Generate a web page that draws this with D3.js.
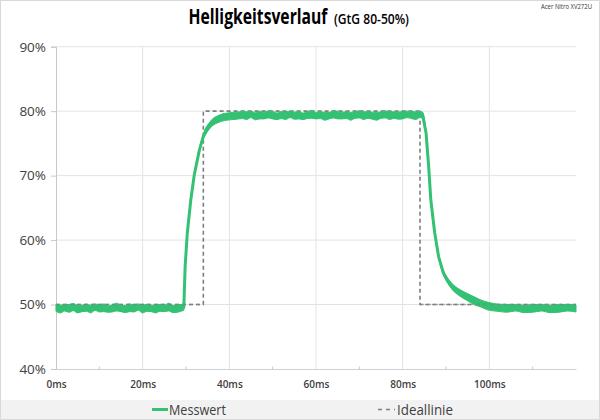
<!DOCTYPE html>
<html><head><meta charset="utf-8">
<script src="https://cdn.jsdelivr.net/npm/d3@7/dist/d3.min.js"></script>
<style>html,body{margin:0;padding:0;background:#fff}svg{display:block}</style>
</head><body><div id="chart"></div>
<script>
// ---- data ----
const title = "Helligkeitsverlauf";
const subtitle = "(GtG 80-50%)";
const device = "Acer Nitro XV272U";
const xTicks = [0, 20, 40, 60, 80, 100];
const xMinorTicks = [10, 30, 50, 70, 90, 110];
const yTicks = [40, 50, 60, 70, 80, 90];
const seriesNames = ["Messwert", "Ideallinie"];
// Messwert (measured) time in ms and brightness in %
const messTime = [0,1,2,3,4,5,6,7,8,9,10,11,12,13,14,15,16,17,18,19,20,21,22,23,24,25,26,27,28,29,29.5,
  29.8,30.3,31.1,31.9,33.1,34.0,35.6,37.9,40,41.7,
  43,44,45,46,47,48,49,50,51,52,53,54,55,56,57,58,59,60,61,62,63,64,65,66,67,68,69,70,71,72,73,74,75,76,77,78,79,80,81,82,83,84,84.6,
  85.4,86.0,86.5,87.4,88.3,89.4,90.3,91.4,93,94.8,96.5,97.9,100,102,104,106,108,110,112,114,116,118,120];
const messValue = [49.5,49.3,49.5,49.4,49.6,49.3,49.4,49.5,49.3,49.6,49.4,49.5,49.3,49.4,49.6,49.4,49.3,49.5,49.4,49.6,49.3,49.5,49.4,49.3,49.5,49.4,49.6,49.3,49.4,49.5,49.6,
  55.9,61.1,66.2,70.1,74.0,76.1,77.9,78.9,79.2,79.3,
  79.4,79.3,79.5,79.2,79.4,79.3,79.5,79.4,79.2,79.4,79.3,79.5,79.3,79.4,79.2,79.4,79.5,79.3,79.4,79.2,79.3,79.5,79.4,79.3,79.4,79.2,79.4,79.5,79.3,79.4,79.3,79.2,79.4,79.5,79.3,79.4,79.3,79.4,79.5,79.4,79.3,79.5,79.4,
  76.6,71.4,66.2,61.1,57.4,54.9,53.8,52.8,51.9,51.2,50.6,50.2,49.7,49.5,49.4,49.5,49.3,49.4,49.5,49.3,49.4,49.5,49.4];
// noise spread (+/- %) of the measured trace at each point
const messSpread = [0.55,0.6,0.5,0.6,0.55,0.6,0.5,0.55,0.6,0.5,0.55,0.6,0.5,0.55,0.6,0.5,0.55,0.6,0.55,0.5,0.6,0.55,0.5,0.6,0.55,0.5,0.6,0.55,0.6,0.5,0.5,
  0.1,0.1,0.1,0.15,0.25,0.4,0.5,0.55,0.55,0.55,
  0.55,0.6,0.5,0.55,0.6,0.5,0.55,0.6,0.5,0.55,0.6,0.5,0.55,0.6,0.5,0.55,0.6,0.5,0.55,0.6,0.5,0.55,0.6,0.5,0.55,0.6,0.5,0.55,0.6,0.5,0.55,0.6,0.5,0.55,0.6,0.5,0.55,0.6,0.5,0.55,0.6,0.5,0.45,
  0.1,0.1,0.1,0.1,0.15,0.3,0.4,0.45,0.5,0.55,0.6,0.55,0.6,0.55,0.6,0.5,0.55,0.6,0.5,0.55,0.6,0.5,0.55];
// Ideallinie (ideal step)
const idealTime = [0, 34, 34, 84, 84, 120];
const idealValue = [50, 50, 80, 80, 50, 50];

// ---- layout ----
const W = 600, H = 420;
const svg = d3.select("#chart").append("svg").attr("width", W).attr("height", H);
const font = "'Open Sans', 'Liberation Sans', sans-serif";
const x = d3.scaleLinear().domain([0, 120]).range([56, 576]);
const y = d3.scaleLinear().domain([40, 90]).range([369, 46.7]);
const green = "#33c173";

svg.append("rect").attr("x", 0.5).attr("y", 0.5).attr("width", W - 1).attr("height", H - 1)
  .attr("fill", "#fff").attr("stroke", "#d9d9d9");
svg.append("rect").attr("x", 1).attr("y", 400).attr("width", W - 2).attr("height", 19).attr("fill", "#f2f2f2");

// gridlines
svg.append("g").selectAll("line").data(yTicks.filter(d => d > 40)).join("line")
  .attr("x1", x(0)).attr("x2", x(120)).attr("y1", d => y(d)).attr("y2", d => y(d))
  .attr("stroke", "#e3e3e3").attr("stroke-width", 1);
svg.append("g").selectAll("line").data(xTicks.filter(d => d > 0)).join("line")
  .attr("x1", d => x(d)).attr("x2", d => x(d)).attr("y1", y(90)).attr("y2", y(40))
  .attr("stroke", "#e3e3e3").attr("stroke-width", 1);

// y axis
const yAxis = d3.axisLeft(y).tickValues(yTicks).tickSize(5).tickFormat(d => d + "%");
const gy = svg.append("g").attr("transform", `translate(${x(0)},0)`).call(yAxis);
gy.select(".domain").attr("stroke", "#c8c8c8");
gy.selectAll(".tick line").attr("stroke", "#c8c8c8");
gy.selectAll(".tick text").attr("font-family", font).attr("font-size", 13.5).attr("fill", "#404040").attr("x", -10);

// x axis
const xAxis = d3.axisBottom(x).tickValues(xTicks).tickSize(0).tickPadding(12).tickFormat(d => d + "ms");
const gx = svg.append("g").attr("transform", `translate(0,${y(40)})`).call(xAxis);
gx.select(".domain").attr("stroke", "#d0d0d0");
gx.selectAll(".tick text").attr("font-family", font).attr("font-size", 10).attr("font-weight", 600).attr("fill", "#404040");
svg.append("g").selectAll("line").data(xMinorTicks).join("line")
  .attr("x1", d => x(d)).attr("x2", d => x(d)).attr("y1", y(40) - 2.5).attr("y2", y(40))
  .attr("stroke", "#c8c8c8");

// lines
const mess = messTime.map((t, i) => ({t, v: messValue[i], s: messSpread[i]}));
const ideal = idealTime.map((t, i) => [t, idealValue[i]]);
const line = d3.line().x(d => x(d[0])).y(d => y(d[1]));
const dashed = (sel) => sel.attr("fill", "none").attr("stroke", "#7f7f7f").attr("stroke-width", 1.6).attr("stroke-dasharray", "4,3");
svg.append("path").datum(ideal).attr("d", line).call(dashed);
const band = d3.area().x(d => x(d.t)).y0(d => y(d.v - d.s)).y1(d => y(d.v + d.s)).curve(d3.curveMonotoneX);
svg.append("path").datum(mess).attr("d", band).attr("fill", green).attr("stroke", green).attr("stroke-width", 1);
svg.append("path").datum(mess).attr("d", d3.line().x(d => x(d.t)).y(d => y(d.v))).attr("fill", "none")
  .attr("stroke", green).attr("stroke-width", 3).attr("stroke-linejoin", "round");
svg.append("path").datum(ideal.slice(0, 2)).attr("d", line).call(dashed).attr("opacity", 0.55);
svg.append("path").datum(ideal.slice(4)).attr("d", line).call(dashed).attr("opacity", 0.55);

// text fitted to a given width via horizontal scaling
function fitText(str, px, py, width, size, weight, fill, anchor) {
  const g = svg.append("g");
  const t = g.append("text").attr("font-family", font).attr("font-size", size)
    .attr("font-weight", weight).attr("fill", fill).text(str);
  const w = t.node().getComputedTextLength();
  const sx = width / w;
  const left = anchor === "end" ? px - width : px;
  g.attr("transform", `translate(${left},${py}) scale(${sx},1)`);
  return t;
}
fitText(title, 188.5, 24, 139, 21, 700, "#000");
fitText(subtitle, 334, 24, 75, 14, 600, "#000");
fitText(device, 592, 9, 51, 6.5, 400, "#333", "end");

// legend
svg.append("line").attr("x1", 152).attr("x2", 168).attr("y1", 409.5).attr("y2", 409.5)
  .attr("stroke", green).attr("stroke-width", 3);
fitText(seriesNames[0], 169, 414.5, 57, 14, 400, "#404040");
svg.append("line").attr("x1", 378).attr("x2", 395).attr("y1", 409.5).attr("y2", 409.5)
  .attr("stroke", "#7f7f7f").attr("stroke-width", 1.3).attr("stroke-dasharray", "4,4");
fitText(seriesNames[1], 397, 414.5, 56, 14, 400, "#404040");
</script></body></html>
